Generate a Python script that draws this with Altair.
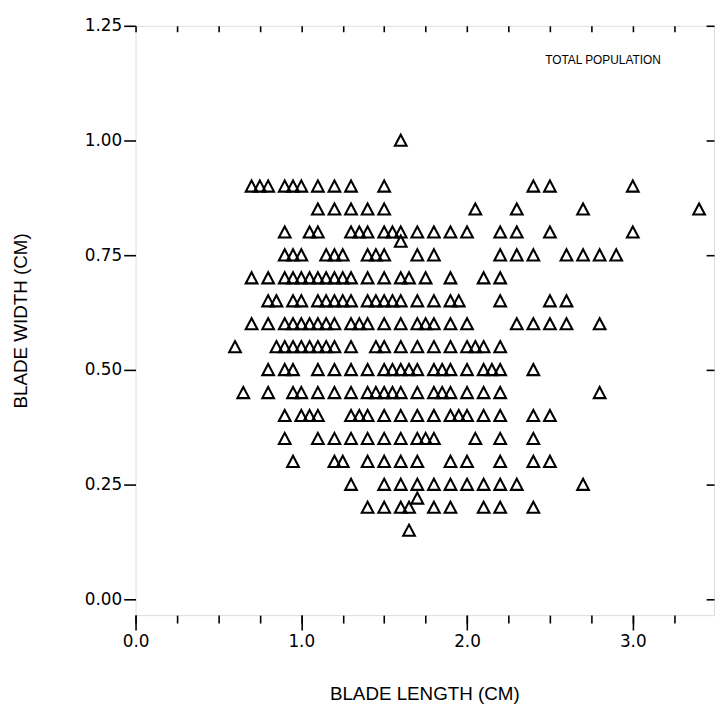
import altair as alt
import pandas as pd

# Blade lengths (cm) observed at each blade width (cm)
W015 = [1.65]
W020 = [1.4, 1.5, 1.6, 1.65, 1.8, 1.9, 2.1, 2.2, 2.4]
W022 = [1.7]
W025 = [1.3, 1.5, 1.6, 1.7, 1.8, 1.9, 2.0, 2.1, 2.2, 2.3, 2.7]
W030 = [0.95, 1.2, 1.25, 1.4, 1.5, 1.6, 1.7, 1.9, 2.0, 2.2, 2.4, 2.5]
W035 = [0.9, 1.1, 1.2, 1.3, 1.4, 1.5, 1.6, 1.7, 1.75, 1.8, 2.05, 2.2, 2.4]
W040 = [0.9, 1.0, 1.05, 1.1, 1.3, 1.35, 1.4, 1.5, 1.6, 1.7, 1.8, 1.9, 1.95, 2.0, 2.1, 2.2, 2.4, 2.5]
W045 = [0.65, 0.8, 0.95, 1.0, 1.1, 1.2, 1.3, 1.4, 1.45, 1.5, 1.55, 1.6, 1.7, 1.8, 1.85, 1.9, 2.0, 2.1, 2.2, 2.8]
W050 = [0.8, 0.9, 0.95, 1.1, 1.2, 1.3, 1.4, 1.5, 1.55, 1.6, 1.65, 1.7, 1.8, 1.85, 1.9, 2.0, 2.1, 2.15, 2.2, 2.4]
W055 = [0.6, 0.85, 0.9, 0.95, 1.0, 1.05, 1.1, 1.15, 1.2, 1.3, 1.45, 1.5, 1.6, 1.7, 1.8, 1.9, 2.0, 2.05, 2.1, 2.2]
W060 = [0.7, 0.8, 0.9, 0.95, 1.0, 1.05, 1.1, 1.15, 1.2, 1.3, 1.35, 1.4, 1.5, 1.6, 1.7, 1.75, 1.8, 1.9, 2.0, 2.3, 2.4, 2.5, 2.6, 2.8]
W065 = [0.8, 0.85, 0.95, 1.0, 1.1, 1.15, 1.2, 1.25, 1.3, 1.4, 1.45, 1.5, 1.55, 1.6, 1.7, 1.8, 1.9, 1.95, 2.2, 2.5, 2.6]
W070 = [0.7, 0.8, 0.9, 0.95, 1.0, 1.05, 1.1, 1.15, 1.2, 1.25, 1.3, 1.4, 1.5, 1.6, 1.65, 1.75, 1.9, 2.1, 2.2]
W075 = [0.9, 0.95, 1.0, 1.15, 1.2, 1.25, 1.4, 1.45, 1.5, 1.7, 1.8, 2.2, 2.3, 2.4, 2.6, 2.7, 2.8, 2.9]
W078 = [1.6]
W080 = [0.9, 1.05, 1.1, 1.3, 1.35, 1.4, 1.5, 1.55, 1.6, 1.7, 1.8, 1.9, 2.0, 2.2, 2.3, 2.5, 3.0]
W085 = [1.1, 1.2, 1.3, 1.4, 1.5, 2.05, 2.3, 2.7, 3.4]
W090 = [0.7, 0.75, 0.8, 0.9, 0.95, 1.0, 1.1, 1.2, 1.3, 1.5, 2.4, 2.5, 3.0]
W100 = [1.6]

WIDTHS = [0.15, 0.20, 0.22, 0.25, 0.30, 0.35, 0.40, 0.45, 0.50, 0.55, 0.60,
          0.65, 0.70, 0.75, 0.78, 0.80, 0.85, 0.90, 1.00]
LENGTH_ROWS = [W015, W020, W022, W025, W030, W035, W040, W045, W050, W055, W060,
               W065, W070, W075, W078, W080, W085, W090, W100]

X_MAJOR = [0, 1, 2, 3]
X_MINOR = [0, 0.25, 0.5, 0.75, 1, 1.25, 1.5, 1.75, 2, 2.25, 2.5, 2.75, 3, 3.25]
Y_TICKS = [0, 0.25, 0.5, 0.75, 1.0, 1.25]

LABEL_TEXT = ["TOTAL POPULATION"]
LABEL_X = [2.82]
LABEL_Y = [1.175]

rows = []
for w, lengths in zip(WIDTHS, LENGTH_ROWS):
    for l in lengths:
        rows.append({"length": l, "width": w})
df = pd.DataFrame(rows)
lab = pd.DataFrame({"t": LABEL_TEXT, "x": LABEL_X, "y": LABEL_Y})

TFONT = "Liberation Sans"
LFONT = "DejaVu Sans"
xs = alt.Scale(domain=[0, 3.49], nice=False, zero=False)
ys = alt.Scale(domain=[-0.0345, 1.25], nice=False, zero=False)

common = dict(domain=False, grid=False, tickColor="black", tickWidth=1.6,
              labelColor="black", labelFont=LFONT, titleFont=TFONT,
              titleColor="black", titleFontWeight="normal")

pts = alt.Chart(df).mark_point(
    shape="M0,-1L1,0.9L-1,0.9Z", filled=False, color="black",
    strokeWidth=2.1, size=140, opacity=1
).encode(
    x=alt.X("length:Q", scale=xs, axis=alt.Axis(
        orient="bottom", values=X_MAJOR, format=".1f", tickSize=15,
        labelFontSize=17, labelPadding=4, labelFlush=False,
        title="BLADE LENGTH (CM)",
        titleFontSize=19, titleX=292, titleY=79, titleBaseline="middle",
        titleAlign="center", **common)),
    y=alt.Y("width:Q", scale=ys, axis=alt.Axis(
        orient="left", values=Y_TICKS, format=".2f", tickSize=12,
        labelFontSize=17, labelPadding=2, labelFlush=False,
        title="BLADE WIDTH (CM)",
        titleFontSize=19, titleX=-116, titleY=298, titleAngle=-90,
        titleBaseline="middle", titleAlign="center", **common)),
)

txt = alt.Chart(lab).mark_text(
    font=TFONT, fontSize=12, color="black", align="center", baseline="middle"
).encode(
    x=alt.X("x:Q", scale=xs, axis=alt.Axis(
        orient="bottom", values=X_MINOR, tickSize=8, labels=False,
        title=None, **common)),
    y=alt.Y("y:Q", scale=ys, axis=alt.Axis(
        orient="right", values=Y_TICKS, tickSize=8, offset=-8,
        labels=False, title=None, **common)),
    text="t:N",
)

top = alt.Chart(df).mark_point(opacity=0).encode(
    x=alt.X("length:Q", scale=xs, axis=alt.Axis(
        orient="top", values=X_MINOR, tickSize=6, offset=-6,
        labels=False, title=None, **common)),
    y=alt.Y("width:Q", scale=ys, axis=alt.Axis(
        orient="left", values=Y_TICKS, tickSize=0, labels=False,
        title=None, ticks=False, **common)),
)

chart = alt.layer(pts, txt, top).resolve_axis(
    x="independent", y="independent"
).properties(
    width=585, height=596,
    padding={"left": 129, "top": 14, "right": 1, "bottom": 96},
    autosize=alt.AutoSizeParams(type="none"),
).configure_view(
    stroke="black", strokeWidth=1.5
).configure(background="white")

chart.save("out.html", embed_options={"renderer": "svg", "actions": False})
